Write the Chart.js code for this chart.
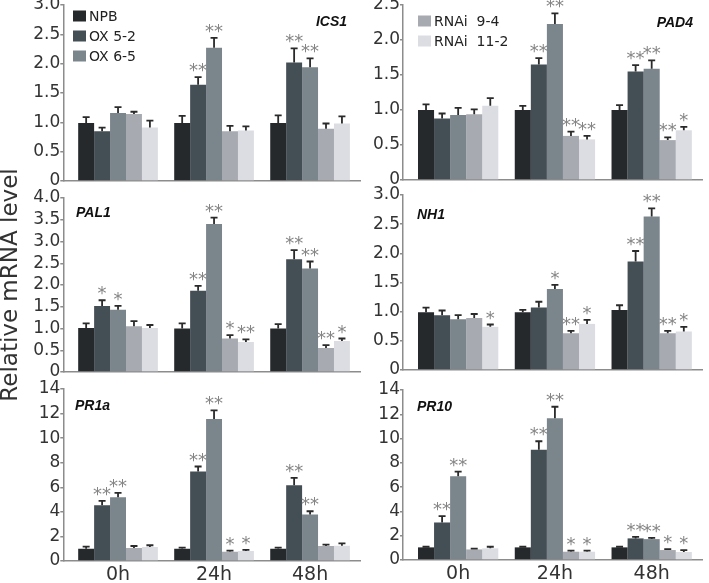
<!DOCTYPE html>
<html>
<head>
<meta charset="utf-8">
<script src="https://cdn.jsdelivr.net/npm/chart.js@4.4.0/dist/chart.umd.min.js"></script>
<style>
  html, body { margin: 0; padding: 0; background: #fff; }
  body { width: 709px; height: 583px; position: relative; overflow: hidden; }
  canvas { position: absolute; left: 0; top: -20px; }
</style>
</head>
<body>
<canvas id="c_ics1" width="709" height="603"></canvas>
<canvas id="c_pad4" width="709" height="603"></canvas>
<canvas id="c_pal1" width="709" height="603"></canvas>
<canvas id="c_nh1" width="709" height="603"></canvas>
<canvas id="c_pr1a" width="709" height="603"></canvas>
<canvas id="c_pr10" width="709" height="603"></canvas>
<script>
// shared categories and lines
const time_labels = ["0h", "24h", "48h"]
const line_names = ["NPB", "OX 5-2", "OX 6-5", "RNAi  9-4", "RNAi  11-2"]
const line_colors = ["#25292c", "#434e55", "#7b858c", "#a7aab1", "#dcdde2"]

// values per line (NPB, OX 5-2, OX 6-5, RNAi 9-4, RNAi 11-2), each over 0h / 24h / 48h
const ics1_vals = [[0.99, 0.99, 0.99], [0.85, 1.64, 2.02], [1.16, 2.27, 1.94], [1.14, 0.85, 0.89], [0.91, 0.86, 0.98]]
const ics1_err = [[0.10, 0.12, 0.13], [0.06, 0.13, 0.24], [0.10, 0.17, 0.15], [0.04, 0.09, 0.09], [0.12, 0.07, 0.12]]
const ics1_sig = [["", "", ""], ["", "**", "**"], ["", "**", "**"], ["", "", ""], ["", "", ""]]

const pad4_vals = [[1.00, 1.00, 1.00], [0.88, 1.65, 1.55], [0.93, 2.23, 1.59], [0.94, 0.63, 0.57], [1.06, 0.58, 0.71]]
const pad4_err = [[0.08, 0.06, 0.07], [0.07, 0.09, 0.09], [0.10, 0.15, 0.12], [0.07, 0.06, 0.04], [0.11, 0.05, 0.05]]
const pad4_sig = [["", "", ""], ["", "**", "**"], ["", "**", "**"], ["", "**", "**"], ["", "**", "*"]]

const pal1_vals = [[1.01, 1.00, 1.00], [1.52, 1.87, 2.59], [1.43, 3.40, 2.38], [1.05, 0.77, 0.55], [1.01, 0.69, 0.71]]
const pal1_err = [[0.11, 0.12, 0.10], [0.13, 0.11, 0.21], [0.09, 0.15, 0.16], [0.12, 0.08, 0.07], [0.07, 0.06, 0.06]]
const pal1_sig = [["", "", ""], ["*", "**", "**"], ["*", "**", "**"], ["", "*", "**"], ["", "**", "*"]]

const nh1_vals = [[0.99, 0.99, 1.03], [0.94, 1.07, 1.86], [0.87, 1.39, 2.63], [0.89, 0.63, 0.63], [0.74, 0.79, 0.66]]
const nh1_err = [[0.08, 0.04, 0.08], [0.08, 0.10, 0.18], [0.07, 0.07, 0.14], [0.07, 0.04, 0.04], [0.04, 0.07, 0.08]]
const nh1_sig = [["", "", ""], ["", "", "**"], ["", "*", "**"], ["", "**", "**"], ["*", "*", "*"]]

const pr1a_vals = [[1.00, 1.00, 1.00], [4.54, 7.28, 6.17], [5.19, 11.55, 3.78], [1.06, 0.76, 1.22], [1.14, 0.82, 1.25]]
const pr1a_err = [[0.17, 0.09, 0.09], [0.35, 0.41, 0.60], [0.35, 0.71, 0.27], [0.16, 0.08, 0.11], [0.14, 0.08, 0.19]]
const pr1a_sig = [["", "", ""], ["**", "**", "**"], ["**", "**", "**"], ["", "*", ""], ["", "*", ""]]

const pr10_vals = [[1.04, 1.04, 1.04], [3.09, 9.07, 1.78], [6.89, 11.67, 1.72], [0.87, 0.68, 0.82], [0.96, 0.68, 0.66]]
const pr10_err = [[0.05, 0.05, 0.05], [0.52, 0.71, 0.13], [0.38, 0.95, 0.11], [0.06, 0.09, 0.08], [0.13, 0.09, 0.16]]
const pr10_sig = [["", "", ""], ["**", "**", "**"], ["**", "**", "**"], ["", "*", "*"], ["", "*", "*"]]

const y_title = "Relative mRNA level"

const font_main = "'DejaVu Sans', sans-serif"
const axis_grey = "#8c8c8c"
const text_dark = "#333333"
const canvas_shift = 20

const panels =
[
  { id: "c_ics1", gene: "ICS1", vals: ics1_vals, errs: ics1_err, sig: ics1_sig, y_max: 3, step: 0.5,
    left: 63.3, right: 360, top: 5, bottom: 181, label_x: 347, label_y: 22, label_align: "right",
    legend: [0, 1, 2], legend_x: 73, legend_y: 16, x_ticks: false, title: false },
  { id: "c_pad4", gene: "PAD4", vals: pad4_vals, errs: pad4_err, sig: pad4_sig, y_max: 2.5, step: 0.5,
    left: 403, right: 702, top: 5, bottom: 180, label_x: 693, label_y: 23, label_align: "right",
    legend: [3, 4], legend_x: 418, legend_y: 21, x_ticks: false, title: false },
  { id: "c_pal1", gene: "PAL1", vals: pal1_vals, errs: pal1_err, sig: pal1_sig, y_max: 4, step: 0.5,
    left: 63.3, right: 360, top: 198, bottom: 372, label_x: 76, label_y: 213, label_align: "left",
    legend: [], x_ticks: false, title: true },
  { id: "c_nh1", gene: "NH1", vals: nh1_vals, errs: nh1_err, sig: nh1_sig, y_max: 3, step: 0.5,
    left: 403, right: 702, top: 195, bottom: 370, label_x: 417, label_y: 215, label_align: "left",
    legend: [], x_ticks: false, title: false },
  { id: "c_pr1a", gene: "PR1a", vals: pr1a_vals, errs: pr1a_err, sig: pr1a_sig, y_max: 14, step: 2,
    left: 63.3, right: 360, top: 389, bottom: 561, label_x: 75, label_y: 406, label_align: "left",
    legend: [], x_ticks: true, title: false },
  { id: "c_pr10", gene: "PR10", vals: pr10_vals, errs: pr10_err, sig: pr10_sig, y_max: 14, step: 2,
    left: 403, right: 702, top: 390, bottom: 560, label_x: 417, label_y: 407, label_align: "left",
    legend: [], x_ticks: true, title: false }
]

// error bars, stars, gene name and legend drawn on top of the bars
const panel_extras =
{
  id: "panel_extras",
  afterDatasetsDraw(chart, args, opts)
  {
    const ctx = chart.ctx
    const y_scale = chart.scales.y
    ctx.save()

    chart.data.datasets.forEach((ds, i) =>
    {
      const meta = chart.getDatasetMeta(i)
      meta.data.forEach((bar, j) =>
      {
        const top_px = y_scale.getPixelForValue(ds.data[j].y + opts.errs[i][j])
        ctx.strokeStyle = "#2a2a2a"
        ctx.lineWidth = 1.8
        ctx.beginPath()
        ctx.moveTo(bar.x, bar.y)
        ctx.lineTo(bar.x, top_px)
        ctx.moveTo(bar.x - 3.5, top_px)
        ctx.lineTo(bar.x + 3.5, top_px)
        ctx.stroke()

        const star = opts.sig[i][j]
        if (star)
        {
          ctx.fillStyle = "#858585"
          ctx.font = "18px " + font_main
          ctx.textAlign = "center"
          ctx.textBaseline = "alphabetic"
          ctx.fillText(star, bar.x, top_px - 1)
        }
      })
    })

    ctx.fillStyle = "#111111"
    ctx.font = "italic bold 14px 'Liberation Sans', Arial, sans-serif"
    ctx.textAlign = opts.label_align
    ctx.textBaseline = "middle"
    ctx.fillText(opts.gene, opts.label_x, opts.label_y + canvas_shift)

    opts.legend.forEach((k, n) =>
    {
      const y = opts.legend_y + canvas_shift + n * 20
      ctx.fillStyle = line_colors[k]
      ctx.fillRect(opts.legend_x, y - 5.5, 13, 11)
      ctx.fillStyle = "#222222"
      ctx.font = "14px " + font_main
      ctx.textAlign = "left"
      ctx.textBaseline = "middle"
      ctx.fillText(line_names[k], opts.legend_x + 16, y + 1)
    })

    ctx.restore()
  }
}

function make_panel(p)
{
  const x_height = p.x_ticks ? 24 : 0

  const datasets = line_names.map((name, i) =>
  ({
    label: name,
    data: p.vals[i].map((v, j) => ({ x: j, y: v })),
    backgroundColor: line_colors[i],
    borderWidth: 0,
    barPercentage: 1,
    categoryPercentage: 0.83
  }))

  return new Chart(document.getElementById(p.id),
  {
    type: "bar",
    data: { datasets: datasets },
    plugins: [panel_extras],
    options:
    {
      responsive: false,
      animation: false,
      layout:
      {
        padding:
        {
          left: 0,
          top: p.top + canvas_shift,
          right: 709 - p.right,
          bottom: 583 - p.bottom - x_height
        }
      },
      plugins:
      {
        legend: { display: false },
        tooltip: { enabled: false },
        panel_extras:
        {
          errs: p.errs, sig: p.sig, gene: p.gene,
          label_x: p.label_x, label_y: p.label_y, label_align: p.label_align,
          legend: p.legend, legend_x: p.legend_x, legend_y: p.legend_y
        }
      },
      scales:
      {
        x:
        {
          type: "linear",
          offset: false,
          bounds: "data",
          min: -0.57,
          max: 2.52,
          grid: { display: false, drawTicks: false },
          border: { display: true, color: axis_grey, width: 1.5 },
          afterBuildTicks: (s) => { s.ticks = time_labels.map((t, i) => ({ value: i })) },
          afterFit: (s) => { s.height = x_height },
          ticks:
          {
            display: p.x_ticks,
            padding: 3,
            color: text_dark,
            font: { family: font_main, size: 19 },
            callback: (v) => time_labels[v]
          }
        },
        y:
        {
          min: 0,
          max: p.y_max,
          grid: { display: true, drawOnChartArea: false, drawTicks: true, tickLength: 3, color: axis_grey, lineWidth: 1.5 },
          border: { display: true, color: axis_grey, width: 1.5 },
          afterFit: (s) => { s.width = p.left },
          title:
          {
            display: p.title,
            text: y_title,
            color: text_dark,
            padding: 0,
            font: { family: font_main, size: 23, lineHeight: 1 }
          },
          ticks:
          {
            stepSize: p.step,
            autoSkip: false,
            padding: 0,
            color: text_dark,
            font: { family: font_main, size: 17 },
            callback: (v) => (p.step < 1 && v !== 0) ? v.toFixed(1) : String(v)
          }
        }
      }
    }
  })
}

panels.forEach(make_panel)
</script>
</body>
</html>
